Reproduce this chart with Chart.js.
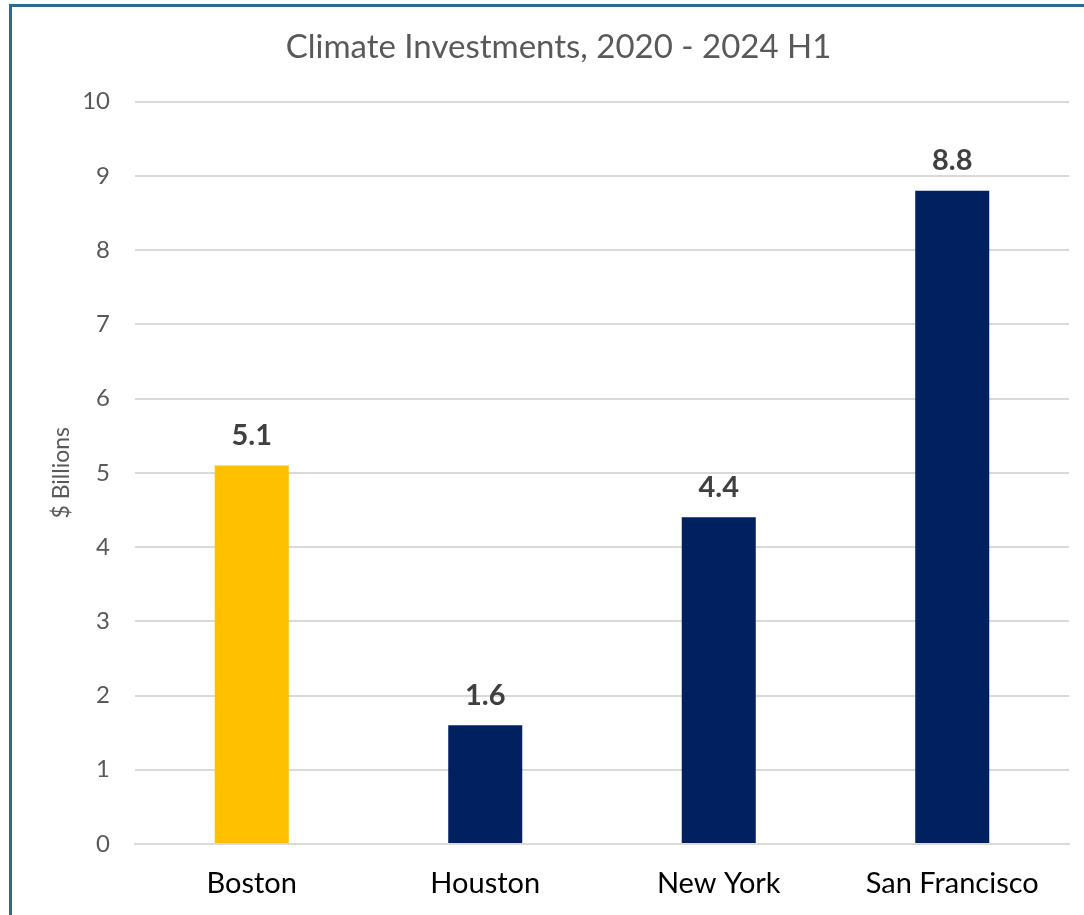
<!DOCTYPE html>
<html>
<head>
<meta charset="utf-8">
<script src="https://cdn.jsdelivr.net/npm/chart.js@4.4.1/dist/chart.umd.min.js"></script>
<style>
  html, body { margin: 0; padding: 0; background: #fff; }
  #wrap { position: relative; width: 1084px; height: 915px; overflow: hidden; }
  #frame { position: absolute; left: 9px; top: 4px; width: 1200px; height: 1000px;
           border-left: 3px solid #2E6A8E; border-top: 3px solid #2E6A8E; }
  #chart { position: absolute; left: 0; top: 0; }
</style>
</head>
<body>
<div id="wrap">
  <div id="frame"></div>
  <canvas id="chart" width="1084" height="915"></canvas>
</div>
<script>
const cities = ['Boston', 'Houston', 'New York', 'San Francisco'];
const investments = [5.1, 1.6, 4.4, 8.8];
const barColors = ['#FFC000', '#002060', '#002060', '#002060'];
const yTicks = [0, 1, 2, 3, 4, 5, 6, 7, 8, 9, 10];

const fontFamily = 'Lato, "Open Sans", sans-serif';

// value labels above each bar
const valueLabels = {
    id: 'valueLabels',
    afterDatasetsDraw(chart) {
        const ctx = chart.ctx;
        const meta = chart.getDatasetMeta(0);
        ctx.save();
        ctx.font = 'bold 29px ' + fontFamily;
        ctx.fillStyle = '#404040';
        ctx.textAlign = 'center';
        ctx.textBaseline = 'middle';
        meta.data.forEach((bar, i) => {
            ctx.fillText(investments[i].toFixed(1), bar.x, bar.y - 30);
        });
        ctx.restore();
    }
};

new Chart(document.getElementById('chart').getContext('2d'), {
    type: 'bar',
    data: {
        labels: cities,
        datasets: [{
            data: investments,
            backgroundColor: barColors,
            categoryPercentage: 1,
            barPercentage: 0.317
        }]
    },
    options: {
        responsive: false,
        animation: false,
        layout: { padding: { left: 48, right: 15, top: 16, bottom: 0 } },
        plugins: {
            legend: { display: false },
            tooltip: { enabled: false },
            title: {
                display: true,
                text: 'Climate Investments, 2020 - 2024 H1',
                color: '#595959',
                font: { family: fontFamily, size: 33, weight: 'normal' },
                padding: { top: 12, bottom: 34 }
            }
        },
        scales: {
            x: {
                afterFit: axis => { axis.height = 71; },
                grid: { display: false, drawTicks: false },
                border: { display: true, color: '#D9D9D9', width: 2 },
                ticks: {
                    color: '#000',
                    font: { family: fontFamily, size: 29 },
                    padding: 22,
                    maxRotation: 0
                }
            },
            y: {
                min: 0,
                max: 10,
                afterBuildTicks: axis => { axis.ticks = yTicks.map(v => ({ value: v })); },
                afterFit: axis => { axis.width = 87; },
                grid: { color: '#D9D9D9', lineWidth: 2, drawTicks: false },
                border: { display: false },
                ticks: {
                    color: '#595959',
                    font: { family: fontFamily, size: 24 },
                    padding: 25
                },
                title: {
                    display: true,
                    text: '$ Billions',
                    color: '#595959',
                    font: { family: fontFamily, size: 23 },
                    padding: { top: 0, bottom: 0 }
                }
            }
        }
    },
    plugins: [valueLabels]
});
</script>
</body>
</html>
